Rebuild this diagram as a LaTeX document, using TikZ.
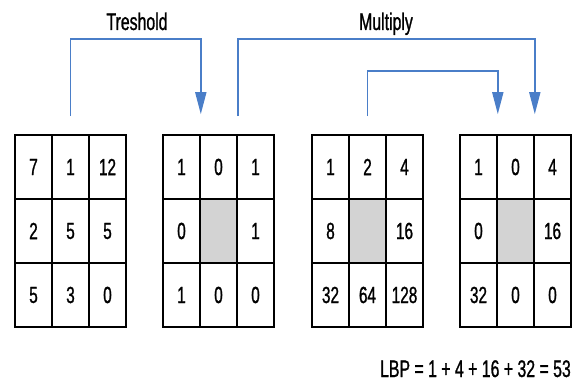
\documentclass[tikz,border=0pt]{standalone}
\usepackage{fontspec}
\setmainfont{Liberation Sans}[FakeStretch=0.66,FakeBold=1]
\usetikzlibrary{arrows.meta,calc}
\definecolor{arrowblue}{RGB}{74,126,200}
\definecolor{cellgray}{RGB}{211,211,211}
\tikzset{
  cell/.style={draw=black, line width=1.6pt, minimum width=37pt, minimum height=64pt, inner sep=0pt, font=\fontsize{23.3}{27}\selectfont},
  grayc/.style={cell, fill=cellgray},
  flow/.style={draw=arrowblue, line width=1.8pt, -{Triangle[length=22pt,width=11pt]}},
  lbl/.style={font=\fontsize{24}{28}\selectfont, inner sep=0pt}
}
\begin{document}
\begin{tikzpicture}[x=1pt,y=-1pt]
\useasboundingbox (0,0) rectangle (573,385);
% cell centres
\foreach \g/\x in {1/15,2/163,3/312,4/460}{
  \foreach \r in {1,2,3}{
    \foreach \c in {1,2,3}{
      \coordinate (p\g-\r-\c) at ({\x+18.5+37*(\c-1)},{135+32+64*(\r-1)});
    }
  }
}
% grid 1
\node[cell] (g1-1-1) at (p1-1-1) {7};
\node[cell] (g1-1-2) at (p1-1-2) {1};
\node[cell] (g1-1-3) at (p1-1-3) {12};
\node[cell] (g1-2-1) at (p1-2-1) {2};
\node[cell] (g1-2-2) at (p1-2-2) {5};
\node[cell] (g1-2-3) at (p1-2-3) {5};
\node[cell] (g1-3-1) at (p1-3-1) {5};
\node[cell] (g1-3-2) at (p1-3-2) {3};
\node[cell] (g1-3-3) at (p1-3-3) {0};
% grid 2
\node[cell] (g2-1-1) at (p2-1-1) {1};
\node[cell] (g2-1-2) at (p2-1-2) {0};
\node[cell] (g2-1-3) at (p2-1-3) {1};
\node[cell] (g2-2-1) at (p2-2-1) {0};
\node[grayc] (g2-2-2) at (p2-2-2) {};
\node[cell] (g2-2-3) at (p2-2-3) {1};
\node[cell] (g2-3-1) at (p2-3-1) {1};
\node[cell] (g2-3-2) at (p2-3-2) {0};
\node[cell] (g2-3-3) at (p2-3-3) {0};
% grid 3
\node[cell] (g3-1-1) at (p3-1-1) {1};
\node[cell] (g3-1-2) at (p3-1-2) {2};
\node[cell] (g3-1-3) at (p3-1-3) {4};
\node[cell] (g3-2-1) at (p3-2-1) {8};
\node[grayc] (g3-2-2) at (p3-2-2) {};
\node[cell] (g3-2-3) at (p3-2-3) {16};
\node[cell] (g3-3-1) at (p3-3-1) {32};
\node[cell] (g3-3-2) at (p3-3-2) {64};
\node[cell] (g3-3-3) at (p3-3-3) {128};
% grid 4
\node[cell] (g4-1-1) at (p4-1-1) {1};
\node[cell] (g4-1-2) at (p4-1-2) {0};
\node[cell] (g4-1-3) at (p4-1-3) {4};
\node[cell] (g4-2-1) at (p4-2-1) {0};
\node[grayc] (g4-2-2) at (p4-2-2) {};
\node[cell] (g4-2-3) at (p4-2-3) {16};
\node[cell] (g4-3-1) at (p4-3-1) {32};
\node[cell] (g4-3-2) at (p4-3-2) {0};
\node[cell] (g4-3-3) at (p4-3-3) {0};
% arrow end points
\coordinate (t-s) at ($(g1-1-2.north)+(0,-18)$);
\coordinate (t-e) at ($(g2-1-1.north east)+(0,-20)$);
\coordinate (m-s) at ($(g2-1-2.north east)+(0,-18)$);
\coordinate (m-e) at ($(g4-1-2.north east)+(0,-20)$);
\coordinate (i-s) at ($(g3-1-2.north)+(0,-18)$);
\coordinate (i-e) at ($(g4-1-1.north east)+(0,-20)$);
\draw[flow] (t-s) -- ++(0,-77) -| (t-e);
\draw[flow] (m-s) -- ++(0,-77) -| (m-e);
\draw[flow] (i-s) -- ++(0,-45) -| (i-e);
% labels
\node[lbl, anchor=base] (treshold) at (137,30) {Treshold};
\node[lbl, anchor=base] (multiply) at (386,30) {Multiply};
\node[lbl, anchor=base east] (lbp) at (571,377) {LBP = 1 + 4 + 16 + 32 = 53};
\end{tikzpicture}
\end{document}
